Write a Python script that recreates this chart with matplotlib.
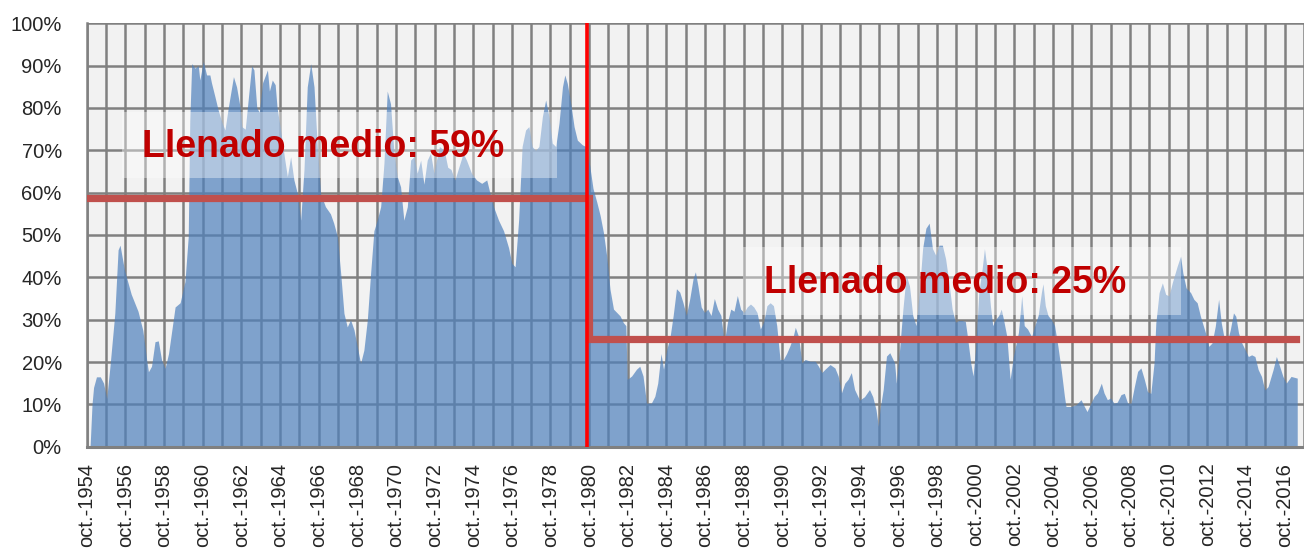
import matplotlib
matplotlib.use("Agg")
import matplotlib.pyplot as plt
from matplotlib.patches import Rectangle
import numpy as np

plt.rcParams['font.family'] = ['Liberation Sans', 'DejaVu Sans']

# ---------------- data (decimal year, % fill) ----------------
dates = [
    1954.80, 1954.92, 1955.02, 1955.10, 1955.25, 1955.45, 1955.62, 1955.78, 1955.95, 1956.20,
    1956.37, 1956.47, 1956.70, 1957.05, 1957.40, 1957.65, 1957.85, 1957.94, 1958.10, 1958.28,
    1958.45, 1958.62, 1958.80, 1958.98, 1959.32, 1959.58, 1959.83, 1960.00, 1960.08, 1960.18,
    1960.35, 1960.52, 1960.60, 1960.78, 1960.95, 1961.12, 1961.20, 1961.38, 1961.55, 1961.73,
    1961.90, 1962.07, 1962.34, 1962.50, 1962.68, 1962.77, 1962.95, 1963.28, 1963.40, 1963.55,
    1963.68, 1963.85, 1964.10, 1964.20, 1964.35, 1964.50, 1964.60, 1964.78, 1965.00, 1965.13,
    1965.30, 1965.47, 1965.65, 1965.82, 1965.99, 1966.16, 1966.34, 1966.51, 1966.68, 1966.85,
    1967.10, 1967.36, 1967.53, 1967.72, 1967.89, 1968.06, 1968.23, 1968.40, 1968.58, 1968.75,
    1968.92, 1969.09, 1969.27, 1969.44, 1969.61, 1969.78, 1969.96, 1970.13, 1970.30, 1970.47,
    1970.65, 1970.82, 1970.99, 1971.16, 1971.34, 1971.51, 1971.68, 1971.85, 1972.03, 1972.20,
    1972.37, 1972.54, 1972.72, 1972.85, 1973.00, 1973.25, 1973.43, 1973.60, 1973.80, 1973.97,
    1974.23, 1974.40, 1974.66, 1974.92, 1975.19, 1975.45, 1975.62, 1975.80, 1976.06, 1976.32,
    1976.58, 1976.75, 1976.92, 1977.10, 1977.28, 1977.46, 1977.63, 1977.80, 1977.98, 1978.15,
    1978.33, 1978.50, 1978.67, 1978.84, 1979.02, 1979.19, 1979.37, 1979.49, 1979.62, 1979.80,
    1979.97, 1980.14, 1980.40, 1980.58, 1980.78, 1980.95, 1981.15, 1981.32, 1981.49, 1981.66,
    1981.83, 1982.01, 1982.18, 1982.35, 1982.52, 1982.65, 1982.72, 1982.95, 1983.20, 1983.37,
    1983.54, 1983.72, 1983.97, 1984.15, 1984.30, 1984.47, 1984.60, 1984.77, 1984.94, 1985.10,
    1985.27, 1985.44, 1985.61, 1985.78, 1985.96, 1986.13, 1986.25, 1986.38, 1986.55, 1986.72,
    1986.89, 1987.06, 1987.23, 1987.40, 1987.57, 1987.74, 1987.91, 1988.08, 1988.25, 1988.42,
    1988.59, 1988.76, 1988.93, 1989.10, 1989.27, 1989.44, 1989.61, 1989.78, 1989.95, 1990.12,
    1990.29, 1990.46, 1990.63, 1990.80, 1990.97, 1991.14, 1991.31, 1991.42, 1991.59, 1991.76,
    1991.93, 1992.19, 1992.45, 1992.62, 1992.79, 1992.96, 1993.22, 1993.47, 1993.64, 1993.81,
    1993.98, 1994.15, 1994.32, 1994.49, 1994.75, 1995.00, 1995.26, 1995.43, 1995.60, 1995.72,
    1995.80, 1995.97, 1996.14, 1996.31, 1996.56, 1996.65, 1996.82, 1996.99, 1997.16, 1997.33,
    1997.50, 1997.67, 1997.84, 1998.01, 1998.18, 1998.35, 1998.52, 1998.69, 1998.86, 1999.03,
    1999.20, 1999.37, 1999.54, 1999.71, 1999.88, 2000.05, 2000.22, 2000.33, 2000.50, 2000.62,
    2000.75, 2000.92, 2001.09, 2001.21, 2001.35, 2001.52, 2001.64, 2001.78, 2001.95, 2002.08,
    2002.20, 2002.37, 2002.54, 2002.71, 2002.97, 2003.14, 2003.27, 2003.44, 2003.65, 2003.82,
    2003.99, 2004.16, 2004.24, 2004.36, 2004.50, 2004.67, 2004.84, 2005.01, 2005.18, 2005.35,
    2005.43, 2005.70, 2005.95, 2006.21, 2006.38, 2006.52, 2006.72, 2006.89, 2007.06, 2007.26,
    2007.40, 2007.57, 2007.74, 2007.91, 2008.08, 2008.28, 2008.45, 2008.62, 2008.80, 2008.97,
    2009.14, 2009.31, 2009.48, 2009.65, 2009.82, 2009.99, 2010.08, 2010.25, 2010.42, 2010.59,
    2010.76, 2010.93, 2011.19, 2011.36, 2011.48, 2011.65, 2011.88, 2012.05, 2012.22, 2012.39,
    2012.65, 2012.82, 2012.99, 2013.16, 2013.33, 2013.47, 2013.59, 2013.76, 2013.93, 2014.10,
    2014.22, 2014.36, 2014.53, 2014.70, 2014.87, 2015.04, 2015.21, 2015.38, 2015.55, 2015.72,
    2015.89, 2016.15, 2016.32, 2016.49, 2016.66, 2016.83, 2017.08, 2017.40,
]
fill_pct = [
    0, 0, 10, 14, 16.5, 16.5, 15, 11.4, 19, 31.5,
    46.5, 47.6, 41.7, 36, 32, 27.5, 20.5, 17.7, 19, 24.8,
    25, 20.5, 18.5, 22, 33, 34, 39, 49.6, 77, 90.5,
    89.4, 90, 86.6, 91, 87.8, 87.8, 86, 82.7, 79.5, 76.8,
    74.8, 80, 87.4, 85, 80.3, 75.6, 75, 90, 89, 80,
    79, 86, 89, 84, 86.6, 85.5, 80, 74.8, 67.7, 63.8,
    68.5, 63, 59.8, 53.5, 65.4, 85, 90.5, 85, 71, 59.8,
    56.7, 55, 52.8, 49.6, 41, 31.5, 28.3, 30, 27.6, 23.6,
    19.7, 22.8, 30, 41, 51, 53.5, 56.7, 67, 84, 81,
    69.3, 63.8, 61.4, 53.5, 56.7, 67.7, 68.5, 64.6, 67.7, 62,
    67.7, 69.3, 64.6, 67.7, 70.9, 70, 66, 65.5, 63, 65.5,
    69.3, 67.7, 64.6, 63, 62.2, 63, 59.8, 56.7, 53.5, 51,
    47, 43.3, 42.5, 53.5, 70.9, 74.8, 75.6, 70.9, 70, 70.9,
    78, 81.9, 78, 71.7, 70.9, 76.4, 85, 87.8, 85.8, 81,
    75.6, 72.4, 71.3, 70.9, 66.4, 61, 57.7, 54.6, 50.6, 45,
    37.2, 32.5, 31.7, 30.9, 29.3, 28.6, 15.9, 16.7, 18.3, 19,
    16.7, 10.3, 10.3, 11.9, 15, 22, 18.3, 23, 26, 31,
    37.3, 36.5, 34, 31, 35, 39.7, 41.3, 38, 33, 31.7,
    32.5, 31, 35, 32.5, 31, 24.6, 29.4, 32.5, 32, 35.7,
    32.5, 31.7, 33, 33.7, 33, 31.7, 27.8, 29.4, 33.3, 34,
    33.3, 28.6, 20.6, 20.6, 22, 23.8, 26, 28.2, 26, 19.8,
    20.6, 20.2, 20.2, 19, 17.5, 18.3, 19.4, 18.6, 16.7, 12.7,
    15, 15.9, 17.5, 13.5, 11, 11.8, 13.5, 11.8, 8.7, 4.8,
    8.7, 13.5, 21.4, 22.2, 19.8, 15, 23, 32.5, 40.5, 38,
    31, 28.6, 36.5, 46.8, 51.6, 52.8, 46.8, 45.2, 47.6, 47.6,
    44.4, 38.9, 32.5, 29.4, 29.8, 29.8, 29.6, 26, 19.8, 16.7,
    23, 36.5, 42, 46.8, 42, 33.3, 28.6, 30, 31, 32.5,
    30, 26, 15.9, 21.4, 27, 35.7, 28.6, 27.8, 26, 28.6,
    31, 36.5, 38.5, 33.3, 31, 30, 28.6, 23.8, 18.3, 11.9,
    9.5, 9.5, 9.9, 11.1, 9.5, 8.3, 10.3, 11.9, 12.7, 15,
    12.7, 11.1, 11.5, 10.3, 10.5, 12.3, 12.6, 10.3, 10.3, 14.2,
    17.8, 18.6, 16, 13, 12.6, 19.8, 29.2, 36.4, 38.7, 36,
    35.6, 38.7, 42.7, 45, 41, 37.5, 36.4, 34.8, 34, 30.8,
    26.9, 23.7, 24.5, 28.5, 34.8, 29.2, 26.3, 24.5, 27.5, 31.6,
    30.8, 26.9, 24.5, 22.9, 21.3, 21.7, 21.3, 18.2, 16.6, 13.4,
    14.2, 18.2, 21.3, 19, 16.6, 15, 16.6, 16.2,
]

# mean levels before / after the break
break_year = 1980.75
red_line_year = 1980.62
mean_levels = [58.8, 25.4]
mean_labels = ["Llenado medio: 59%", "Llenado medio: 25%"]

tick_years = list(range(1954, 2017, 2))
tick_labels = [f"oct.-{y}" for y in tick_years]
y_ticks = list(range(0, 101, 10))
y_tick_labels = [f"{v}%" for v in y_ticks]

# ---------------- figure ----------------
W, H = 1304, 551
fig = plt.figure(figsize=(W / 100, H / 100), dpi=100)
ax = fig.add_axes([86.8 / W, (H - 446.7) / H, 1 - 86.8 / W, (446.7 - 23.3) / H])

x_start = 1954.75
x_end = x_start + (W - 86.8) / 19.45
ax.set_xlim(x_start, x_end)
ax.set_ylim(0, 100)
ax.set_facecolor('#f2f2f2')

grid_col = '#808080'
ax.set_axisbelow(True)
ax.grid(True, which='both', color=grid_col, linewidth=1.8, zorder=0)

major_pos = [y + 0.75 for y in tick_years]
minor_pos = [y + 1.75 for y in tick_years]
ax.set_xticks(major_pos)
ax.set_xticks(minor_pos, minor=True)
ax.set_xticklabels(tick_labels, rotation=90, ha='center', va='top',
                   fontsize=14.5, color='#262626')
ax.set_yticks(y_ticks)
ax.set_yticklabels(y_tick_labels, fontsize=14.5, color='#262626')
ax.tick_params(axis='x', which='both', length=0, pad=11.5)
ax.tick_params(axis='y', which='both', length=0, pad=18)

for side in ['top', 'right']:
    ax.spines[side].set_visible(False)
ax.spines['bottom'].set_color(grid_col)
ax.spines['bottom'].set_linewidth(2.2)
ax.spines['left'].set_color(grid_col)
ax.spines['left'].set_linewidth(1.8)

# area
ax.fill_between(dates, fill_pct, 0, color='#4f81bd', alpha=0.7,
                linewidth=0, zorder=2)

# semi-transparent label boxes
box_specs = [
    (1956.56, 63.5, 1979.08 - 1956.56, 79.0 - 63.5),
    (1988.69, 31.1, 2011.36 - 1988.69, 47.2 - 31.1),
]
for (bx, by, bw, bh) in box_specs:
    ax.add_patch(Rectangle((bx, by), bw, bh, facecolor='white', alpha=0.38,
                           edgecolor='none', zorder=3))

# mean lines (step)
mean_col = '#c0504d'
ax.plot([x_start, break_year, break_year, x_end],
        [mean_levels[0], mean_levels[0], mean_levels[1], mean_levels[1]],
        color=mean_col, linewidth=5.2, solid_joinstyle='miter', zorder=4)

# red break line
ax.plot([red_line_year, red_line_year], [0, 100], color='#ff0000',
        linewidth=2.6, zorder=5)

# texts
ax.text(1966.96, 68.4, mean_labels[0], ha='center', va='baseline',
        fontsize=27, fontweight='bold', color='#c00000', zorder=6)
ax.text(1999.18, 36.3, mean_labels[1], ha='center', va='baseline',
        fontsize=27, fontweight='bold', color='#c00000', zorder=6)

fig.savefig('out.png', dpi=100)
